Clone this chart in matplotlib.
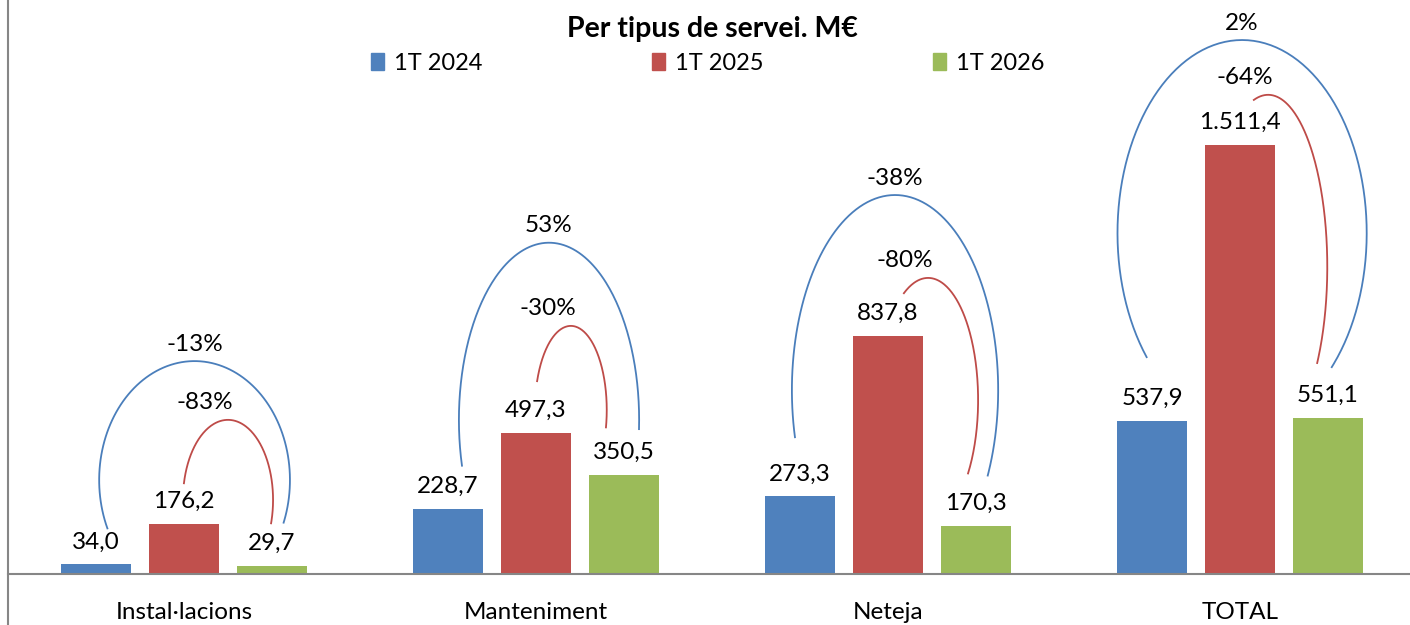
import matplotlib
matplotlib.use("Agg")
import matplotlib.pyplot as plt
from matplotlib.lines import Line2D
from matplotlib.patches import Patch
import numpy as np

categories = ["Instal·lacions", "Manteniment", "Neteja", "TOTAL"]
series = ["1T 2024", "1T 2025", "1T 2026"]
v2024 = [34.0, 228.7, 273.3, 537.9]
v2025 = [176.2, 497.3, 837.8, 1511.4]
v2026 = [29.7, 350.5, 170.3, 551.1]

colors = ["#4F81BD", "#C0504D", "#9BBB59"]
arc_blue = "#4A7EBB"
arc_red = "#BE4B48"

# hand drawn arcs: (x offset from category, half width, centre y, half height, start deg, end deg)
blue_arcs = [(0.030, 0.271, 331, 419, 204, -21),
             (0.037, 0.256, 543, 624, 195, -3),
             (0.020, 0.293, 648, 687, 194, -26),
             (0.006, 0.354, 1201, 680, 220, -44)]
red_arcs = [(0.125, 0.128, 261, 282, 168, -17),
            (0.099, 0.102, 578, 296, 160, -12),
            (0.114, 0.142, 613, 430, 119, -37),
            (0.080, 0.168, 1082, 606, 104, -34)]

def fmt(v):
    s = f"{v:,.1f}"
    return s.replace(",", "X").replace(".", ",").replace("X", ".")

def pct(new, old):
    return f"{round((new / old - 1) * 100):.0f}%"

plt.rcParams['font.family'] = ['Lato', 'DejaVu Sans']

fig = plt.figure(figsize=(14.1, 6.25), dpi=100)
ax = fig.add_axes([8 / 1410, 51 / 625, 1402 / 1410, 574 / 625])

x = np.arange(len(categories))
w = 0.2
for k, vals in enumerate([v2024, v2025, v2026]):
    pos = x + (k - 1) * 0.25
    ax.bar(pos, vals, width=w, color=colors[k], label=series[k], zorder=2)
    for p, v in zip(pos, vals):
        ax.annotate(fmt(v), (p, v), xytext=(0, 12), textcoords="offset pixels",
                    ha="center", va="bottom", fontsize=17.5)

t = np.linspace(0, 1, 200)
for i in range(len(categories)):
    for arcs, col, new, old, dxl in [(blue_arcs, arc_blue, v2026[i], v2024[i], 0.0),
                                     (red_arcs, arc_red, v2026[i], v2025[i], -0.065)]:
        dx, a, cy, b, t0, t1 = arcs[i]
        ang = np.radians(t0 + (t1 - t0) * t)
        ax.plot(i + dx + a * np.cos(ang), cy + b * np.sin(ang), color=col, lw=1.3, zorder=3)
        ax.annotate(pct(new, old), (i + dx + dxl, cy + b), xytext=(0, 17),
                    textcoords="offset pixels", ha="center", va="center", fontsize=17.5)

ax.set_xlim(-0.5, 3.483)
ax.set_ylim(0, 2022)
ax.set_yticks([])
ax.set_xticks(x)
ax.set_xticklabels(categories, fontsize=17.5)
ax.tick_params(axis="x", length=0, pad=20)
for s in ["top", "right", "left"]:
    ax.spines[s].set_visible(False)
ax.spines["bottom"].set_color("#868686")
ax.spines["bottom"].set_linewidth(1.5)

fig.add_artist(Line2D([8 / 1410, 8 / 1410], [0, 1], color="#868686", lw=1.5,
                      transform=fig.transFigure))

fig.text(0.505, 1 - 29 / 625, "Per tipus de servei. M€", ha="center", va="center",
         fontsize=20.5, fontweight="bold")

handles = [Patch(color=c) for c in colors]
fig.legend(handles, series, loc="center", bbox_to_anchor=(0.502, 1 - 63 / 625), ncol=3,
           frameon=False, fontsize=17, handlelength=0.55, handleheight=0.75,
           handletextpad=0.4, columnspacing=7.2)

fig.savefig("out.png", dpi=100)
